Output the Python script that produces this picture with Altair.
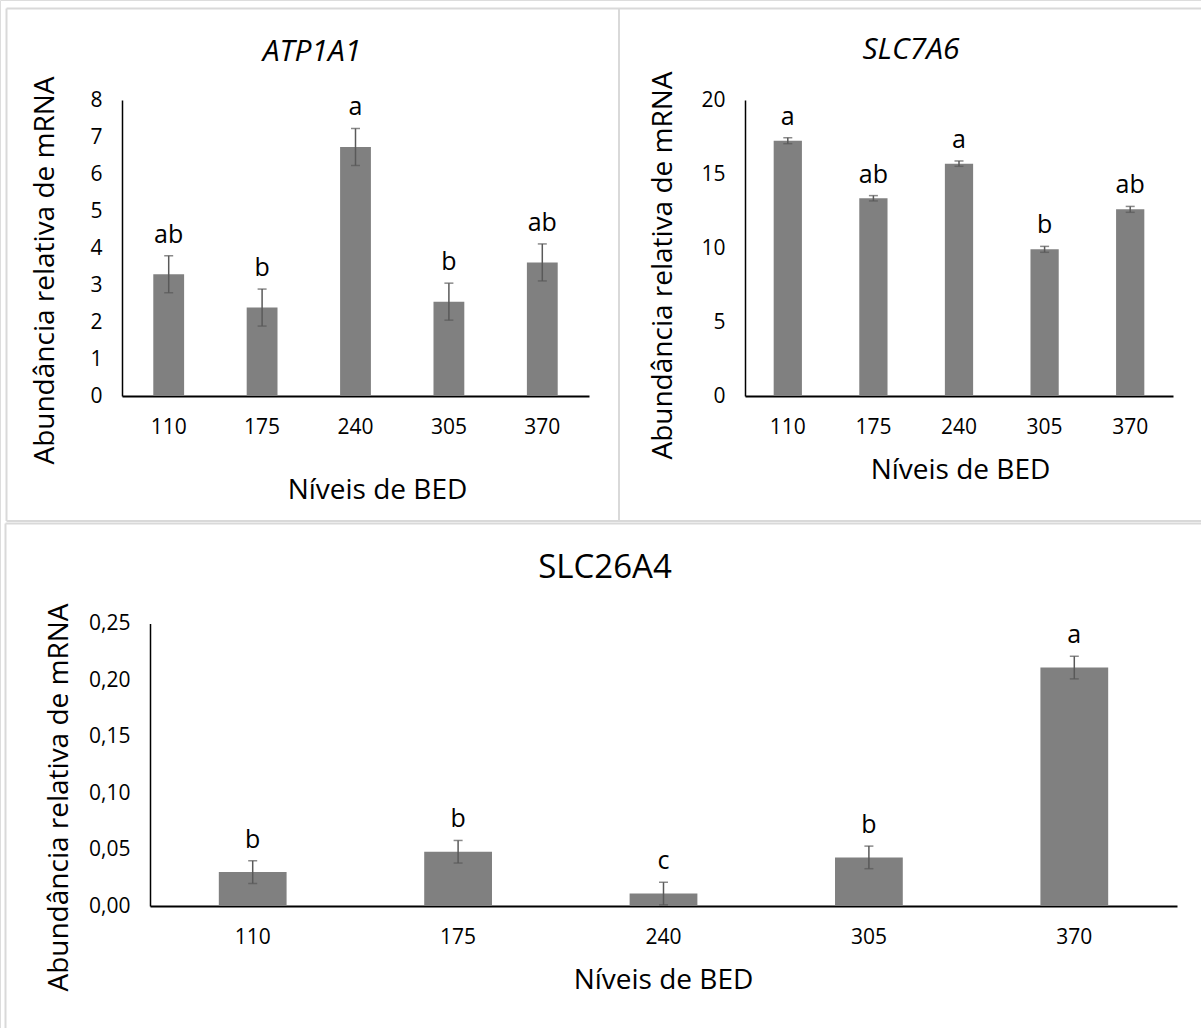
import altair as alt
import pandas as pd

# ---------------- data ----------------
categories = ["110", "175", "240", "305", "370"]

atp_mean = [3.29, 2.39, 6.73, 2.55, 3.61]
atp_se = [0.50, 0.50, 0.50, 0.50, 0.50]
atp_letters = ["ab", "b", "a", "b", "ab"]

slc7_mean = [17.25, 13.36, 15.70, 9.91, 12.61]
slc7_se = [0.20, 0.18, 0.18, 0.20, 0.20]
slc7_letters = ["a", "ab", "a", "b", "ab"]

slc26_mean = [0.030, 0.048, 0.011, 0.043, 0.211]
slc26_se = [0.010, 0.010, 0.010, 0.010, 0.010]
slc26_letters = ["b", "b", "c", "b", "a"]

W, H = 1201, 1028
FONT = "Open Sans"


def make_df(mean, se, letters):
    return pd.DataFrame({
        "BED": categories,
        "mean": mean,
        "lo": [m - s for m, s in zip(mean, se)],
        "hi": [m + s for m, s in zip(mean, se)],
        "letter": letters,
    })


def panel(df, ymax, ystep, xrange, yrange, label_expr, ytitle_x, ytitle_y,
          xtitle_x, xtitle_y):
    axis_x_pos = xrange[0]
    axis_y_pos = yrange[0]
    xscale = alt.Scale(range=xrange, paddingInner=0.67, paddingOuter=0.335)
    yscale = alt.Scale(domain=[0, ymax], range=yrange, nice=False, zero=True)
    tick_vals = [round(i * ystep, 4) for i in range(int(round(ymax / ystep)) + 1)]

    x_axis = alt.Axis(
        orient="bottom", offset=axis_y_pos - H, labelAngle=0, ticks=False,
        grid=False, domainColor="#000000", domainWidth=2,
        labelFontSize=21, labelColor="#000000", labelPadding=20,
        labelFont=FONT, titleFont=FONT,
        title="Níveis de BED", titleFontSize=28, titleFontWeight="normal",
        titleColor="#000000", titleX=xtitle_x, titleY=xtitle_y,
        titleBaseline="middle", titleAlign="center",
    )
    y_axis_kwargs = dict(
        orient="left", offset=-axis_x_pos, ticks=False, grid=False,
        domainColor="#000000", domainWidth=1.5, values=tick_vals,
        labelFontSize=21, labelColor="#000000", labelPadding=20,
        labelFont=FONT, titleFont=FONT,
        title="Abundância relativa de mRNA", titleFontSize=28,
        titleFontWeight="normal", titleColor="#000000",
        titleX=ytitle_x, titleY=ytitle_y, titleBaseline="middle",
        titleAlign="center", titleAngle=270,
    )
    if label_expr:
        y_axis_kwargs["labelExpr"] = label_expr
    y_axis = alt.Axis(**y_axis_kwargs)

    base = alt.Chart(df)
    xs = alt.X("BED:N", sort=categories, scale=xscale, axis=x_axis)
    bars = base.mark_bar(color="#808080").encode(
        x=xs, y=alt.Y("mean:Q", scale=yscale, axis=y_axis),
    )
    err = base.mark_rule(color="#595959", strokeWidth=1.5).encode(
        x=xs, y=alt.Y("lo:Q", scale=yscale, axis=y_axis), y2="hi:Q"
    )
    cap_hi = base.mark_tick(color="#595959", size=9, thickness=1.5).encode(
        x=xs, y=alt.Y("hi:Q", scale=yscale, axis=y_axis)
    )
    cap_lo = base.mark_tick(color="#595959", size=9, thickness=1.5).encode(
        x=xs, y=alt.Y("lo:Q", scale=yscale, axis=y_axis)
    )
    txt = base.mark_text(fontSize=25, dy=-21, baseline="middle",
                         color="#000000", font=FONT).encode(
        x=xs, y=alt.Y("hi:Q", scale=yscale, axis=y_axis), text="letter:N"
    )
    return alt.layer(bars, err, cap_hi, cap_lo, txt)


p1 = panel(make_df(atp_mean, atp_se, atp_letters), 8, 1,
           [122, 589], [396, 100], None, -77, 270, 377, 94)
p2 = panel(make_df(slc7_mean, slc7_se, slc7_letters), 20, 5,
           [745, 1173], [396, 100], None, -82, 265, 960, 74)
p3 = panel(make_df(slc26_mean, slc26_se, slc26_letters), 0.25, 0.05,
           [150, 1177], [906, 623.5],
           "replace(format(datum.value, '.2f'), '.', ',')", -91, 797, 663, 74)

one = pd.DataFrame({"k": [0]})


def title_mark(text, x, y, size, italic):
    return alt.Chart(one).mark_text(
        fontSize=size, font=FONT, fontStyle="italic" if italic else "normal",
        color="#000000", baseline="middle", align="center",
    ).encode(x=alt.value(x), y=alt.value(y), text=alt.value(text))


def line(x1, x2, y1, y2):
    return alt.Chart(one).mark_rule(color="#d9d9d9", strokeWidth=2).encode(
        x=alt.value(x1), x2=alt.value(x2), y=alt.value(y1), y2=alt.value(y2)
    )


borders = [
    line(6.5, 1205, 8.5, 8.5),
    line(6.5, 6.5, 8.5, 521),
    line(6.5, 1205, 521, 521),
    line(619, 619, 8.5, 521),
    line(5.5, 1205, 523.5, 523.5),
    line(5.5, 5.5, 523.5, 1035),
]

titles = [
    title_mark("ATP1A1", 312, 52, 30, True),
    title_mark("SLC7A6", 911, 50, 30, True),
    title_mark("SLC26A4", 605, 568, 33, False),
]

chart = alt.layer(*borders, *titles, p1, p2, p3).resolve_scale(
    x="independent", y="independent"
).properties(
    width=W, height=H, autosize=alt.AutoSizeParams(type="none"),
    padding=0, background="#ffffff",
).configure_view(stroke=None).configure(font=FONT)

chart.save("out.html", embed_options={"renderer": "svg", "actions": False})
